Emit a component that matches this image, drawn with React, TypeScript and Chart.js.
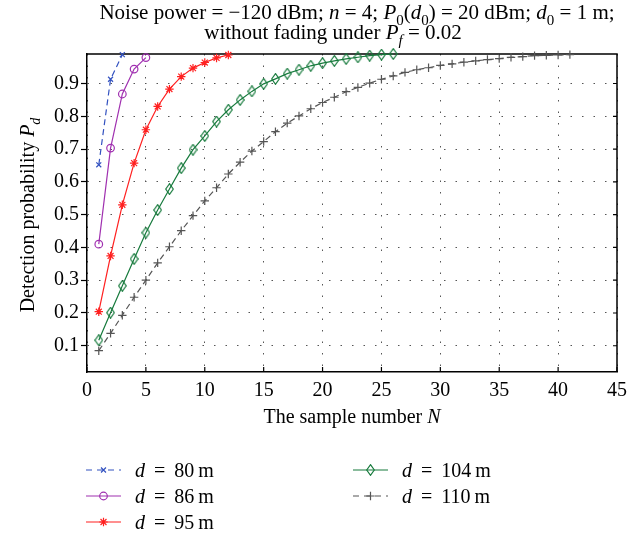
import React, { useEffect, useRef } from "react";
import { Chart, registerables } from "chart.js";
import { drawPoint } from "chart.js/helpers";

Chart.register(...registerables);

// ---- data ----
const distances = [80, 86, 95, 104, 110];
const pd80 = [0.652, 0.913, 0.988];
const pd86 = [0.41, 0.703, 0.868, 0.944, 0.979];
const pd95 = [0.204, 0.374, 0.53, 0.657, 0.759, 0.83, 0.883, 0.921, 0.947, 0.964, 0.978, 0.987];
const pd104 = [
  0.117, 0.201, 0.283, 0.365, 0.445, 0.514, 0.578, 0.642, 0.698, 0.74,
  0.784, 0.82, 0.85, 0.876, 0.899, 0.914, 0.93, 0.942, 0.954, 0.962,
  0.969, 0.975, 0.98, 0.985, 0.988, 0.99,
];
const pd110 = [
  0.085, 0.138, 0.193, 0.248, 0.3, 0.353, 0.402, 0.451, 0.497, 0.542,
  0.582, 0.624, 0.66, 0.694, 0.723, 0.753, 0.779, 0.801, 0.823, 0.842,
  0.858, 0.875, 0.888, 0.901, 0.913, 0.923, 0.934, 0.942, 0.948, 0.955,
  0.96, 0.965, 0.969, 0.973, 0.976, 0.98, 0.982, 0.985, 0.986, 0.987, 0.988,
];
const xTicks = [0, 5, 10, 15, 20, 25, 30, 35, 40, 45];
const yTicks = [0.1, 0.2, 0.3, 0.4, 0.5, 0.6, 0.7, 0.8, 0.9];

const FONT = "'Liberation Serif', 'DejaVu Serif', serif";

type Seg = { t: string; it?: boolean; sub?: boolean };

function drawRich(ctx: CanvasRenderingContext2D, segs: Seg[], cx: number, y: number, size: number) {
  const fontFor = (s: Seg) => `${s.it ? "italic " : ""}${s.sub ? Math.round(size * 0.7) : size}px ${FONT}`;
  let total = 0;
  const widths: number[] = [];
  for (const s of segs) {
    ctx.font = fontFor(s);
    const w = ctx.measureText(s.t).width;
    widths.push(w);
    total += w;
  }
  let x = cx - total / 2;
  ctx.textAlign = "left";
  ctx.textBaseline = "alphabetic";
  segs.forEach((s, i) => {
    ctx.font = fontFor(s);
    ctx.fillText(s.t, x, y + (s.sub ? size * 0.28 : 0));
    x += widths[i];
  });
}

function makeDiamond(color: string): HTMLCanvasElement {
  const c = document.createElement("canvas");
  c.width = 9;
  c.height = 12;
  const g = c.getContext("2d")!;
  g.strokeStyle = color;
  g.lineWidth = 1.2;
  g.beginPath();
  g.moveTo(4.5, 0.7);
  g.lineTo(8.3, 6);
  g.lineTo(4.5, 11.3);
  g.lineTo(0.7, 6);
  g.closePath();
  g.stroke();
  return c;
}

export default function App() {
  const ref = useRef<HTMLCanvasElement>(null);

  useEffect(() => {
    document.body.style.margin = "0";
    const canvas = ref.current!;
    const diamond = makeDiamond("#167a3c");
    const series = [pd80, pd86, pd95, pd104, pd110];
    const colors = ["#3352c0", "#a030b0", "#ff2020", "#167a3c", "#555555"];
    const styles: any[] = ["crossRot", "circle", "star", diamond, "cross"];
    const radii = [3.5, 3.8, 4.2, 5, 4.2];
    const dashes = [[6, 4], [], [], [], [6, 4]];

    const datasets = series.map((vals, i) => ({
      label: `d = ${distances[i]} m`,
      data: vals.map((v, k) => ({ x: k + 1, y: v })),
      borderColor: colors[i],
      backgroundColor: "rgba(0,0,0,0)",
      borderWidth: 1.2,
      borderDash: dashes[i],
      pointStyle: styles[i],
      pointRadius: radii[i],
      pointBorderColor: colors[i],
      pointBackgroundColor: "rgba(0,0,0,0)",
      pointBorderWidth: 1.2,
      tension: 0,
      clip: false as any,
    }));

    const decor = {
      id: "decor",
      beforeDatasetsDraw(chart: any) {
        const { ctx, chartArea: a, scales } = chart;
        ctx.save();
        ctx.strokeStyle = "#000";
        ctx.lineWidth = 1.5;
        ctx.beginPath();
        ctx.moveTo(a.left, a.top);
        ctx.lineTo(a.right, a.top);
        ctx.lineTo(a.right, a.bottom);
        ctx.stroke();
        ctx.lineWidth = 1.2;
        ctx.beginPath();
        for (const t of xTicks) {
          const x = scales.x.getPixelForValue(t);
          ctx.moveTo(x, a.bottom);
          ctx.lineTo(x, a.bottom - 5);
        }
        for (const t of yTicks) {
          const y = scales.y.getPixelForValue(t);
          ctx.moveTo(a.right, y);
          ctx.lineTo(a.right - 4, y);
        }
        ctx.stroke();
        ctx.restore();
      },
      afterDraw(chart: any) {
        const { ctx, chartArea: a } = chart;
        ctx.save();
        ctx.fillStyle = "#000";
        // title
        drawRich(
          ctx,
          [
            { t: "Noise power = \u2212120 dBm; " },
            { t: "n", it: true },
            { t: " = 4; " },
            { t: "P", it: true },
            { t: "0", sub: true },
            { t: "(" },
            { t: "d", it: true },
            { t: "0", sub: true },
            { t: ") = 20 dBm; " },
            { t: "d", it: true },
            { t: "0", sub: true },
            { t: " = 1 m;" },
          ],
          357,
          19,
          21
        );
        drawRich(
          ctx,
          [
            { t: "without fading under " },
            { t: "P", it: true },
            { t: "f", it: true, sub: true },
            { t: " = 0.02" },
          ],
          333,
          39,
          21
        );
        // x title
        drawRich(ctx, [{ t: "The sample number " }, { t: "N", it: true }], (a.left + a.right) / 2, 423, 20);
        // y title
        ctx.save();
        ctx.translate(34, 215);
        ctx.rotate(-Math.PI / 2);
        drawRich(ctx, [{ t: "Detection probability " }, { t: "P", it: true }, { t: "d", it: true, sub: true }], 0, 0, 20);
        ctx.restore();
        // legend
        const pos = [
          [86, 470],
          [86, 496],
          [86, 522],
          [353, 470],
          [353, 496],
        ];
        chart.data.datasets.forEach((ds: any, i: number) => {
          const [lx, ly] = pos[i];
          ctx.save();
          ctx.strokeStyle = ds.borderColor;
          ctx.lineWidth = 1.2;
          ctx.setLineDash(ds.borderDash.length ? [6, 5] : []);
          ctx.beginPath();
          ctx.moveTo(lx, ly);
          ctx.lineTo(lx + 35, ly);
          ctx.stroke();
          ctx.setLineDash([]);
          ctx.fillStyle = "rgba(0,0,0,0)";
          ctx.lineWidth = 1.2;
          drawPoint(ctx, { pointStyle: ds.pointStyle, radius: ds.pointRadius, rotation: 0, borderWidth: 1.2 } as any, lx + 17.5, ly);
          ctx.restore();
          ctx.fillStyle = "#000";
          const textX = lx + 49;
          ctx.font = `italic 20px ${FONT}`;
          ctx.textAlign = "left";
          ctx.textBaseline = "alphabetic";
          ctx.fillText("d", textX, ly + 7);
          const dw = ctx.measureText("d").width;
          ctx.font = `20px ${FONT}`;
          ctx.fillText(` \u2009=\u2009 ${distances[i]}\u2009m`, textX + dw, ly + 7);
        });
        ctx.restore();
      },
    };

    const chart = new Chart(canvas, {
      type: "line",
      data: { datasets: datasets as any },
      options: {
        animation: false,
        responsive: false,
        layout: { padding: { top: 54, right: 27, left: 0, bottom: 0 } },
        plugins: { legend: { display: false }, title: { display: false }, tooltip: { enabled: false } },
        scales: {
          x: {
            type: "linear",
            min: 0,
            max: 45,
            afterFit: (s: any) => {
              s.height = 165;
            },
            afterBuildTicks: (s: any) => {
              s.ticks = xTicks.map((v) => ({ value: v }));
            },
            ticks: {
              color: "#000",
              font: { family: FONT, size: 20 },
              padding: 7,
              maxRotation: 0,
              autoSkip: false,
            },
            grid: { color: "#555", lineWidth: 1, drawTicks: false },
            border: { display: true, color: "#000", width: 1.5, dash: [1.5, 10] },
          },
          y: {
            type: "linear",
            min: 0.02,
            max: 0.99,
            afterFit: (s: any) => {
              s.width = 87;
            },
            afterBuildTicks: (s: any) => {
              s.ticks = yTicks.map((v) => ({ value: v }));
            },
            ticks: {
              color: "#000",
              font: { family: FONT, size: 20 },
              padding: 2,
              autoSkip: false,
              callback: (v: any) => Number(v).toFixed(1),
            },
            grid: { color: "#555", lineWidth: 1, drawTicks: true, tickLength: 6, tickColor: "#000", tickWidth: 1.2 },
            border: { display: true, color: "#000", width: 1.5, dash: [1.5, 10] },
          },
        },
      },
      plugins: [decor],
    });
    return () => chart.destroy();
  }, []);

  return (
    <div style={{ position: "fixed", left: 0, top: 0, width: 644, height: 537, background: "#fff" }}>
      <canvas ref={ref} width={644} height={537} />
    </div>
  );
}
